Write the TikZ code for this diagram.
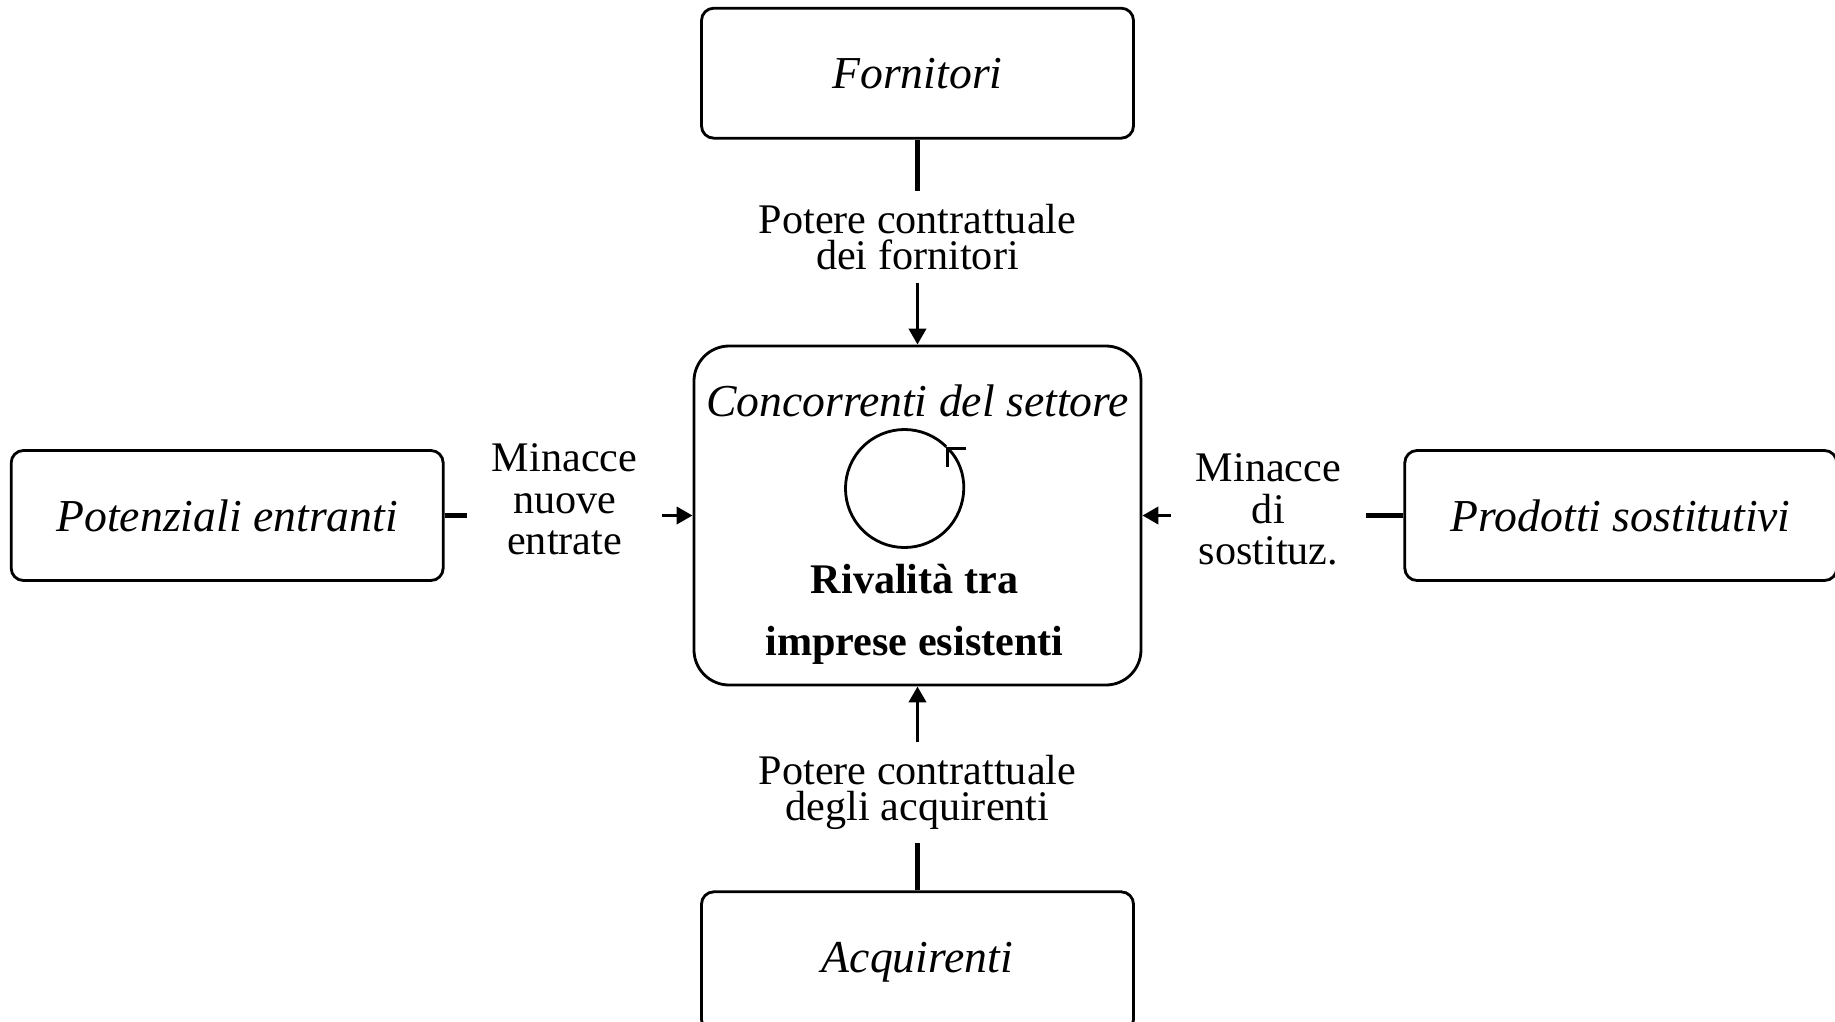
\documentclass[tikz,border=0pt]{standalone}
\usepackage{fontspec}
\setmainfont{Liberation Serif}
\usetikzlibrary{arrows.meta, positioning, calc}

\begin{document}
\begin{tikzpicture}[
      node distance=2cm,
      force/.style={rectangle, draw=black, line width=0.8pt, rounded corners=3.5pt, minimum width=4.32cm, minimum height=1.3cm, align=center, font=\fontsize{13}{15}\selectfont\itshape},
      core/.style={rectangle, draw=black, line width=0.8pt, rounded corners=10pt, minimum width=4.47cm, minimum height=3.39cm},
      lbl/.style={align=center, inner xsep=7pt, inner ysep=3.5pt, font=\fontsize{12}{10.5}\selectfont},
      sidelbl/.style={lbl, font=\fontsize{12}{11.8}\selectfont},
      stub/.style={line width=1.4pt},
      arrow/.style={-{Triangle[length=1.6mm, width=1.7mm]}, line width=1.1pt},
      every node/.style={font=\fontsize{12}{14}\selectfont}
  ]
      \useasboundingbox (-9.175,-5.055) rectangle (9.175,5.155);
      \node[core] (conc) at (0,0) {};
      \node[force, above=2.05cm of conc] (forn) {Fornitori};
      \node[force, below=2.04cm of conc, minimum height=1.4cm] (acq) {Acquirenti};
      \node[force, left=2.48cm of conc] (pot) {Potenziali entranti};
      \node[force, right=2.61cm of conc] (prod) {Prodotti sostitutivi};
      \node[below=0.39cm of conc.north, inner sep=0pt, font=\fontsize{13}{15}\selectfont\itshape] (title) {Concorrenti del settore};
      \node[below=1.46cm of title, inner sep=0pt, align=center, font=\fontsize{12}{17.6}\selectfont\bfseries, xshift=-0.03cm] (rival) {Rivalità tra\\imprese esistenti};
      \draw[line width=0.8pt, -{Straight Barb[length=1.3mm, width=2.6mm]}] ($(conc.center)+(-0.13,0.27)$) ++(45:0.59) arc[start angle=45, end angle=405, radius=0.59];
      \node[lbl, yshift=0.05cm] (toplbl) at ($(conc.north)!0.5!(forn.south)$) {Potere contrattuale\\dei fornitori};
      \node[lbl, yshift=-0.04cm] (botlbl) at ($(conc.south)!0.5!(acq.north)$) {Potere contrattuale\\degli acquirenti};
      \node[sidelbl, xshift=-0.04cm, yshift=0.16cm] (potlbl) at ($(conc.west)!0.5!(pot.east)$) {Minacce\\nuove\\entrate};
      \node[sidelbl, xshift=-0.045cm, yshift=0.06cm] (prodlbl) at ($(conc.east)!0.5!(prod.west)$) {Minacce\\di\\sostituz.};
      \draw[stub] (forn) -- (toplbl);
      \draw[arrow] (toplbl) -- (conc);
      \draw[stub] (acq) -- (botlbl);
      \draw[arrow] (botlbl) -- (conc);
      \draw[stub] (pot.east) -- (potlbl.west |- pot.east);
      \draw[arrow] (potlbl.east |- pot.east) -- (conc.west |- pot.east);
      \draw[stub] (prod.west) -- (prodlbl.east |- prod.west);
      \draw[arrow] (prodlbl.west |- prod.west) -- (conc.east |- prod.west);
  \end{tikzpicture}
\end{document}
